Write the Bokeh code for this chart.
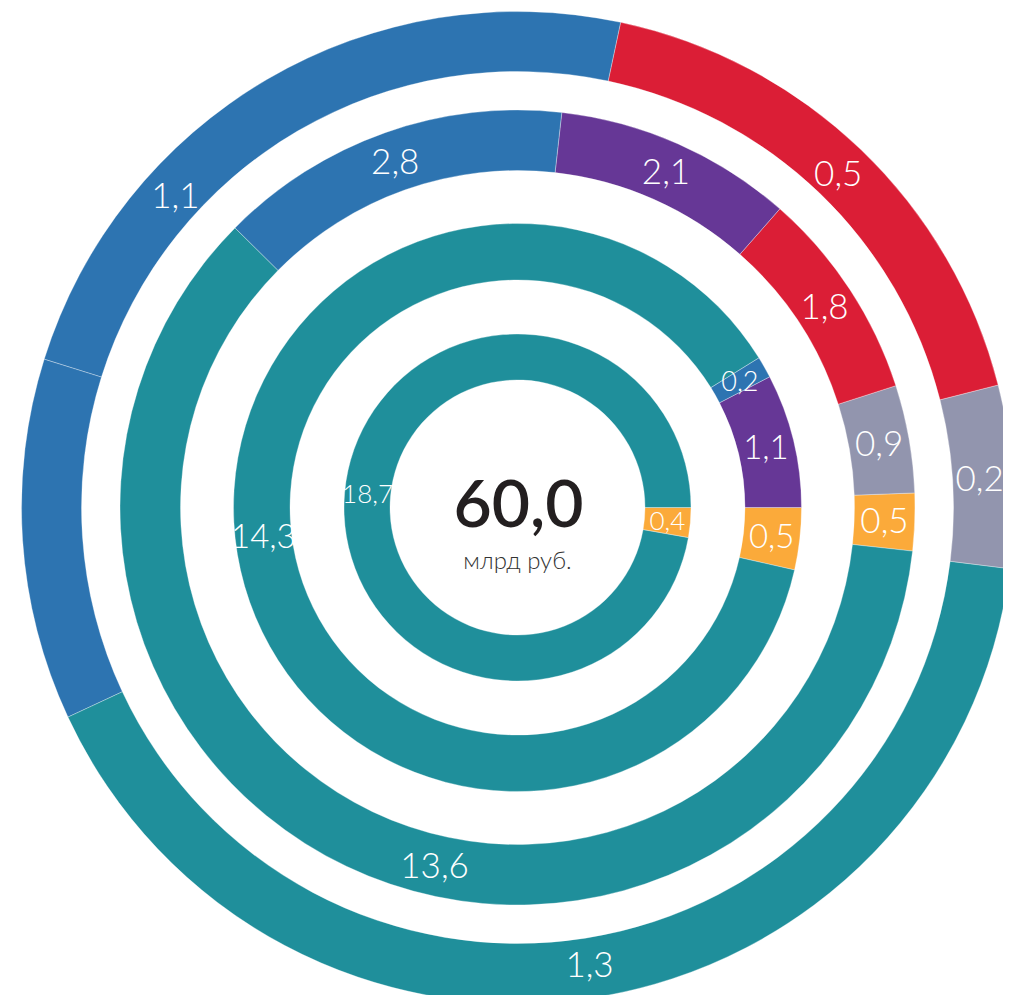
import numpy as np
from bokeh.plotting import figure
from bokeh.models import ColumnDataSource, Range1d
from bokeh.core.properties import value
from bokeh.embed import file_html
from bokeh.resources import INLINE

# ---------------- data (rings from innermost to outermost, segments anticlockwise) ----
ring1_labels = ["0,4", "18,7"]
ring1_cats = ["orange", "teal"]
ring1_shares = [10.0, 350.0]          # angular share of the ring

ring2_labels = ["0,5", "1,1", "0,2", "14,3"]
ring2_cats = ["orange", "purple", "blue", "teal"]
ring2_shares = [12.7, 27.4, 4.4, 315.5]

ring3_labels = ["0,5", "0,9", "1,8", "2,1", "2,8", "13,6"]
ring3_cats = ["orange", "grey", "red", "purple", "blue", "teal"]
ring3_shares = [8.4, 15.75, 30.85, 34.9, 51.7, 218.4]

ring4_labels = ["0,2", "0,5", "1,1", "", "1,3"]
ring4_cats = ["grey", "red", "blue", "blue", "teal"]
ring4_shares = [21.4, 63.7, 84.6, 42.4, 147.9]

total_value = "60,0"
total_unit = "млрд руб."

# ---------------- style / layout --------------------------------------------------
COLORS = {
    "teal": "#1f8f9b",
    "blue": "#2d74b1",
    "red": "#db1e36",
    "purple": "#663796",
    "grey": "#9295ae",
    "orange": "#fbaa3a",
}
# inner radius, outer radius, start angle (deg), label font size (px)
RING_LAYOUT = [
    (127.5, 173.5, -10.0, 26),
    (227.5, 284.0, -12.7, 33),
    (337.0, 397.5, -6.3, 35),
    (436.0, 496.0, -7.1, 35),
]
SMALL_SEGMENT_FS = 27           # font size for very narrow segments
LABEL_FRAC = {(1, 3): 0.49, (2, 5): 0.557, (3, 2): 0.705}   # label position along segment
LABEL_FONT = "Lato Light, Lato"

rings = [
    (ring1_labels, ring1_cats, ring1_shares),
    (ring2_labels, ring2_cats, ring2_shares),
    (ring3_labels, ring3_cats, ring3_shares),
    (ring4_labels, ring4_cats, ring4_shares),
]

deg = np.pi / 180.0
w_rows = dict(inner=[], outer=[], start=[], end=[], color=[])
t_rows = dict(x=[], y=[], text=[], fs=[])
for ri, (labels, cats, shares) in enumerate(rings):
    r_in, r_out, start_deg, fs = RING_LAYOUT[ri]
    sh = np.asarray(shares, dtype=float)
    cum = np.concatenate([[0.0], np.cumsum(sh)]) / sh.sum() * 2 * np.pi
    a0 = start_deg * deg + cum[:-1]
    a1 = start_deg * deg + cum[1:]
    for si in range(len(sh)):
        w_rows["inner"].append(r_in)
        w_rows["outer"].append(r_out)
        w_rows["start"].append(a0[si])
        w_rows["end"].append(a1[si])
        w_rows["color"].append(COLORS[cats[si]])
        if labels[si]:
            frac = LABEL_FRAC.get((ri, si), 0.5)
            mid = a0[si] + frac * (a1[si] - a0[si])
            rm = (r_in + r_out) / 2.0 - (3 if ri == 3 else 0)
            t_rows["x"].append(rm * np.cos(mid))
            t_rows["y"].append(rm * np.sin(mid))
            t_rows["text"].append(labels[si])
            size = SMALL_SEGMENT_FS if (a1[si] - a0[si]) < 6 * deg else fs
            t_rows["fs"].append(f"{size}px")

W, H = 1003, 995
CX, CY = 517, 507   # picture position of the centre
p = figure(
    width=W, height=H,
    x_range=Range1d(-CX, W - CX),
    y_range=Range1d(CY - H, CY),
    output_backend="svg", toolbar_location=None,
    min_border=0, outline_line_color=None,
    background_fill_color="white", border_fill_color="white",
)
p.axis.visible = False
p.grid.visible = False

p.annular_wedge(
    x=0, y=0, inner_radius="inner", outer_radius="outer",
    start_angle="start", end_angle="end",
    fill_color="color", line_color="white", line_width=0.6, line_alpha=0.55,
    source=ColumnDataSource(w_rows),
)

p.text(
    x="x", y="y", text="text", source=ColumnDataSource(t_rows),
    text_font=value(LABEL_FONT), text_font_size="fs",
    text_color="white", text_align="center", text_baseline="middle",
)

p.text(x=[1], y=[4], text=[total_value], text_font=value("Lato Semibold, Lato Medium, Lato"),
       text_font_size="66px", text_color="#231f20",
       text_align="center", text_baseline="alphabetic")
p.text(x=[0], y=[-52], text=[total_unit], text_font=value(LABEL_FONT),
       text_font_size="24px", text_color="#333333",
       text_align="center", text_baseline="alphabetic")

open("out.html", "w").write(file_html(p, INLINE))
